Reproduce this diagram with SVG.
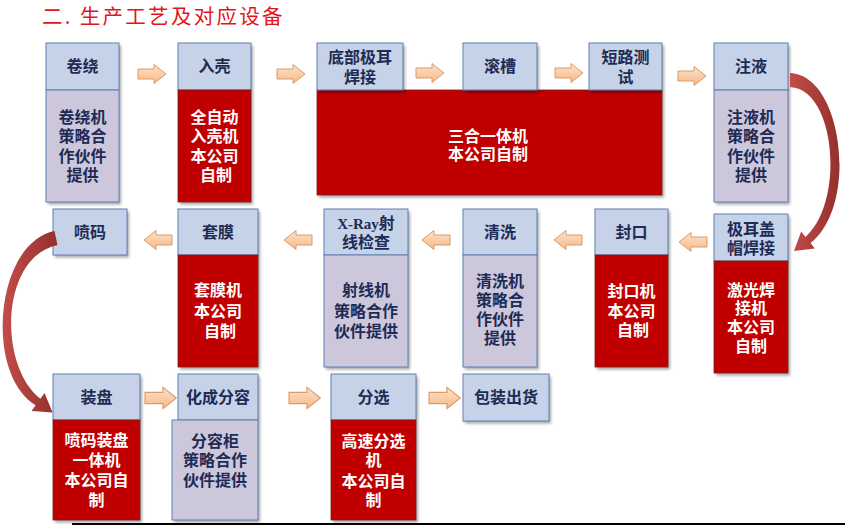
<svg xmlns="http://www.w3.org/2000/svg" xmlns:xlink="http://www.w3.org/1999/xlink" width="845" height="526" viewBox="0 0 845 526">
<defs>
<style>
.hd{fill:#c6d2e7;stroke:#5f7fb3;stroke-width:1}
.lv{fill:#cdc7dc;stroke:#5f7fb3;stroke-width:1}
.rd{fill:#c00000;stroke:#7a1f1f;stroke-width:0.8}
.sd{fill:#fff;filter:url(#sh)}
text{font-family:"Noto Sans CJK SC","Noto Sans",sans-serif;font-size:16px;font-weight:700;text-anchor:middle}
.tn{fill:#1d2b55}
.tw{fill:#ffffff}
.title{font-size:20.5px;font-weight:400;fill:#e3141b;text-anchor:start;letter-spacing:2.3px}
.lat{font-family:"Liberation Serif",serif;font-size:15px}
.blk{fill:url(#pg);stroke:#dc9a68;stroke-width:1}
.crv{fill:url(#cg)}
</style>
<filter id="sh" x="-10%" y="-10%" width="130%" height="130%">
<feDropShadow dx="2" dy="2.5" stdDeviation="1.5" flood-color="#000" flood-opacity="0.35"/>
</filter>
<linearGradient id="pg" x1="0" y1="0" x2="0" y2="1">
<stop offset="0" stop-color="#fde3cc"/>
<stop offset="1" stop-color="#f6b886"/>
</linearGradient>
<linearGradient id="cg" x1="0" y1="0" x2="1" y2="0">
<stop offset="0" stop-color="#c24d49"/>
<stop offset="1" stop-color="#93302d"/>
</linearGradient>
<path id="ar" d="M0,-5 H16 V-9.5 L28,0 L16,9.5 V5 H0 Z"/>
</defs>
<rect width="845" height="526" fill="#ffffff"/>
<text class="title" x="42" y="24">二. 生产工艺及对应设备</text>

<g id="n-juanrao">
<rect class="sd" x="46" y="43" width="73" height="159"/>
<rect class="hd" x="46" y="43" width="73" height="47"/>
<rect class="lv" x="46" y="90" width="73" height="112"/>
<text class="tn" x="82.5" y="72">卷绕</text>
<text class="tn"><tspan x="82.5" y="122.5">卷绕机</tspan><tspan x="82.5" y="142">策略合</tspan><tspan x="82.5" y="161.5">作伙件</tspan><tspan x="82.5" y="181">提供</tspan></text>
</g>

<g id="n-ruke">
<rect class="sd" x="178" y="43" width="73" height="159"/>
<rect class="hd" x="178" y="43" width="73" height="47"/>
<rect class="rd" x="178" y="90" width="73" height="112"/>
<text class="tn" x="214.5" y="72">入壳</text>
<text class="tw"><tspan x="214.5" y="122.5">全自动</tspan><tspan x="214.5" y="142">入壳机</tspan><tspan x="214.5" y="161.5">本公司</tspan><tspan x="216" y="181">自制</tspan></text>
</g>

<g id="n-sanheyi">
<rect class="sd" x="317" y="90" width="345" height="105"/>
<rect class="rd" x="317" y="90" width="345" height="105"/>
<text class="tw"><tspan x="488" y="141.5">三合一体机</tspan><tspan x="488" y="159.5">本公司自制</tspan></text>
</g>

<g id="n-dibu">
<rect class="sd" x="317" y="43" width="86" height="47"/>
<rect class="hd" x="317" y="43" width="86" height="47"/>
<text class="tn"><tspan x="360" y="62.5">底部极耳</tspan><tspan x="360" y="82.5">焊接</tspan></text>
</g>

<g id="n-guncao">
<rect class="sd" x="463" y="43" width="74" height="47"/>
<rect class="hd" x="463" y="43" width="74" height="47"/>
<text class="tn" x="500" y="72">滚槽</text>
</g>

<g id="n-duanlu">
<rect class="sd" x="589" y="43" width="73" height="47"/>
<rect class="hd" x="589" y="43" width="73" height="47"/>
<text class="tn"><tspan x="625.5" y="62.5">短路测</tspan><tspan x="625.5" y="82.5">试</tspan></text>
</g>

<g id="n-zhuye">
<rect class="sd" x="714" y="43" width="74" height="159"/>
<rect class="hd" x="714" y="43" width="74" height="47"/>
<rect class="lv" x="714" y="90" width="74" height="112"/>
<text class="tn" x="751" y="72">注液</text>
<text class="tn"><tspan x="751" y="122.5">注液机</tspan><tspan x="751" y="142">策略合</tspan><tspan x="751" y="161.5">作伙件</tspan><tspan x="751" y="181">提供</tspan></text>
</g>

<g id="n-jier">
<rect class="sd" x="714" y="214" width="74" height="159"/>
<rect class="hd" x="714" y="214" width="74" height="47"/>
<rect class="rd" x="714" y="261" width="74" height="112"/>
<text class="tn"><tspan x="751" y="234.5">极耳盖</tspan><tspan x="751" y="253.5">帽焊接</tspan></text>
<text class="tw"><tspan x="751" y="295.5">激光焊</tspan><tspan x="751" y="314">接机</tspan><tspan x="751" y="332.5">本公司</tspan><tspan x="751" y="352">自制</tspan></text>
</g>

<g id="n-fengkou">
<rect class="sd" x="595" y="209" width="73" height="158"/>
<rect class="hd" x="595" y="209" width="73" height="46"/>
<rect class="rd" x="595" y="255" width="73" height="112"/>
<text class="tn" x="631.5" y="237.5">封口</text>
<text class="tw"><tspan x="631.5" y="297">封口机</tspan><tspan x="631.5" y="317">本公司</tspan><tspan x="633" y="336">自制</tspan></text>
</g>

<g id="n-qingxi">
<rect class="sd" x="463" y="209" width="74" height="158"/>
<rect class="hd" x="463" y="209" width="74" height="46"/>
<rect class="lv" x="463" y="255" width="74" height="112"/>
<text class="tn" x="500" y="237.5">清洗</text>
<text class="tn"><tspan x="500" y="287">清洗机</tspan><tspan x="500" y="306">策略合</tspan><tspan x="500" y="325">作伙件</tspan><tspan x="500" y="344">提供</tspan></text>
</g>

<g id="n-xray">
<rect class="sd" x="324" y="209" width="84" height="158"/>
<rect class="hd" x="324" y="209" width="84" height="46"/>
<rect class="lv" x="324" y="255" width="84" height="112"/>
<text class="tn"><tspan x="366" y="228.5"><tspan class="lat">X-Ray</tspan>射</tspan><tspan x="366" y="247.5">线检查</tspan></text>
<text class="tn"><tspan x="366" y="296">射线机</tspan><tspan x="366" y="317">策略合作</tspan><tspan x="366" y="337">伙件提供</tspan></text>
</g>

<g id="n-taomo">
<rect class="sd" x="178" y="209" width="80" height="158"/>
<rect class="hd" x="178" y="209" width="80" height="46"/>
<rect class="rd" x="178" y="255" width="80" height="112"/>
<text class="tn" x="218" y="237.5">套膜</text>
<text class="tw"><tspan x="218" y="296">套膜机</tspan><tspan x="218" y="317">本公司</tspan><tspan x="220" y="337">自制</tspan></text>
</g>

<g id="n-penma">
<rect class="sd" x="53" y="209" width="74" height="46"/>
<rect class="hd" x="53" y="209" width="74" height="46"/>
<text class="tn" x="90" y="237.5">喷码</text>
</g>

<g id="n-zhuangpan">
<rect class="sd" x="53" y="374" width="87" height="146"/>
<rect class="hd" x="53" y="374" width="87" height="46"/>
<rect class="rd" x="53" y="420" width="87" height="100"/>
<text class="tn" x="96.5" y="402.5">装盘</text>
<text class="tw"><tspan x="96.5" y="445.5">喷码装盘</tspan><tspan x="96.5" y="465.5">一体机</tspan><tspan x="96.5" y="485.5">本公司自</tspan><tspan x="96.5" y="505.5">制</tspan></text>
</g>

<g id="n-huacheng">
<rect class="sd" x="172" y="374" width="86" height="146"/>
<rect class="hd" x="178" y="374" width="80" height="46"/>
<rect class="lv" x="172" y="420" width="86" height="100"/>
<text class="tn" x="218" y="402.5">化成分容</text>
<text class="tn"><tspan x="215" y="447">分容柜</tspan><tspan x="215" y="466">策略合作</tspan><tspan x="215" y="486">伙件提供</tspan></text>
</g>

<g id="n-fenxuan">
<rect class="sd" x="331" y="374" width="85" height="146"/>
<rect class="hd" x="331" y="374" width="85" height="46"/>
<rect class="rd" x="331" y="420" width="85" height="100"/>
<text class="tn" x="373.5" y="402.5">分选</text>
<text class="tw"><tspan x="373.5" y="447">高速分选</tspan><tspan x="373.5" y="466">机</tspan><tspan x="373.5" y="487">本公司自</tspan><tspan x="373.5" y="506">制</tspan></text>
</g>

<g id="n-baozhuang">
<rect class="sd" x="463" y="374" width="86" height="47"/>
<rect class="hd" x="463" y="374" width="86" height="47"/>
<text class="tn" x="506" y="403">包装出货</text>
</g>

<g id="connectors">
<use xlink:href="#ar" class="blk" transform="translate(138,74)"/>
<use xlink:href="#ar" class="blk" transform="translate(277,74)"/>
<use xlink:href="#ar" class="blk" transform="translate(416,73)"/>
<use xlink:href="#ar" class="blk" transform="translate(555,73)"/>
<use xlink:href="#ar" class="blk" transform="translate(678,76)"/>
<use xlink:href="#ar" class="blk" transform="translate(707,242) scale(-1,1)"/>
<use xlink:href="#ar" class="blk" transform="translate(582,240) scale(-1,1)"/>
<use xlink:href="#ar" class="blk" transform="translate(450,240) scale(-1,1)"/>
<use xlink:href="#ar" class="blk" transform="translate(312,240) scale(-1,1)"/>
<use xlink:href="#ar" class="blk" transform="translate(172,240) scale(-1,1)"/>
<use xlink:href="#ar" class="blk" transform="translate(145,398) scale(1.12)"/>
<use xlink:href="#ar" class="blk" transform="translate(289,398) scale(1.12)"/>
<use xlink:href="#ar" class="blk" transform="translate(429,398) scale(1.12)"/>
<path class="crv" d="M790 73 C843 75 859 205 810.5 243.1 L814.8 248.6 L794 251 L801.2 231.4 L805.5 236.9 C845 202 836 89 790 87 Z"/>
<path class="crv" d="M54.5 231 C-5 243 -16 374 35.6 405.2 L31.5 410.9 L52.6 412.6 L44.5 393.1 L40.4 398.8 C-2 366 0 257 57.5 245 Z"/>
</g>

<line x1="72" y1="524" x2="845" y2="524" stroke="#000" stroke-width="2"/>
</svg>
